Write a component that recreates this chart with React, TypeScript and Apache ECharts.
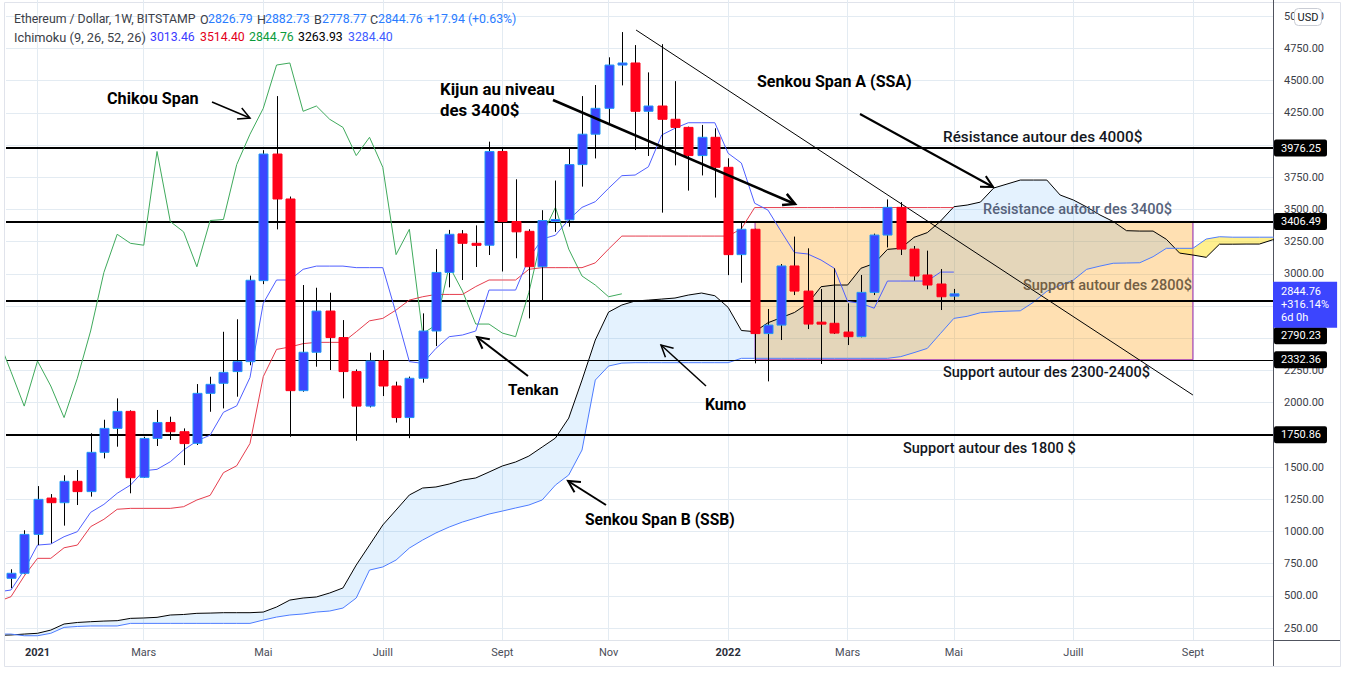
import React, { useEffect, useRef } from 'react';
import * as echarts from 'echarts';

// ---------- data (week index 0 = 4 Jan 2021, weekly bars) ----------
const FIRST_WEEK = -2;
const opens = [
  636, 675, 977, 1259, 1223, 1389, 1309, 1614, 1800, 1932,
  1420, 1722, 1846, 1774, 1684, 2072, 2150, 2241, 2318, 2947,
  3930, 3581, 2093, 2391, 2711, 2505, 2241, 1973, 2323, 2129,
  1884, 2189, 2556, 3011, 3310, 3237, 3222, 3950, 3406, 3330,
  3055, 3414, 3419, 3848, 4084, 4285, 4621, 4637, 4262, 4303,
  4200, 4137, 3918, 4060, 3827, 3149, 3346, 2536, 2602, 3061,
  2866, 2625, 2616, 2548, 2512, 2856, 3301, 3516, 3192, 2991,
  2921, 2826.79,
];
const closes = [
  675, 977, 1249, 1223, 1389, 1309, 1614, 1800, 1932, 1417,
  1722, 1846, 1774, 1682, 2072, 2142, 2235, 2318, 2950, 3930,
  3581, 2093, 2391, 2711, 2505, 2241, 1973, 2323, 2129, 1884,
  2189, 2556, 3011, 3307, 3237, 3222, 3950, 3406, 3326, 3055,
  3414, 3422, 3848, 4084, 4285, 4621, 4637, 4262, 4303, 4200,
  4137, 3918, 4060, 3827, 3149, 3346, 2536, 2602, 3061, 2866,
  2610, 2610, 2540, 2512, 2856, 3301, 3516, 3192, 2983, 2913,
  2822, 2844.76,
];
const lows = [
  560, 668, 894, 908, 1045, 1205, 1270, 1567, 1658, 1296,
  1415, 1663, 1710, 1515, 1671, 1929, 1955, 2046, 2290, 2920,
  3345, 1735, 2085, 2279, 2253, 2033, 1704, 1963, 2051, 1845,
  1724, 2155, 2439, 2895, 2952, 3053, 3146, 3018, 3121, 2654,
  2796, 3326, 3366, 3677, 3896, 4161, 4463, 3961, 3915, 3475,
  3842, 3646, 3764, 3592, 2990, 2931, 2305, 2165, 2486, 2835,
  2571, 2300, 2533, 2447, 2507, 2835, 3205, 3146, 2947, 2880,
  2719, 2778.77,
];
const highs = [
  706, 1009, 1352, 1290, 1436, 1477, 1762, 1867, 2033, 1940,
  1735, 1943, 1891, 1800, 2144, 2201, 2550, 2647, 2986, 3960,
  4380, 3600, 2913, 2892, 2853, 2641, 2258, 2388, 2408, 2163,
  2202, 2693, 3192, 3341, 3340, 3376, 4026, 3974, 3734, 3346,
  3494, 3724, 3974, 4380, 4466, 4681, 4877, 4776, 4564, 4783,
  4496, 4143, 4156, 4130, 3897, 3405, 3350, 2727, 3076, 3289,
  3198, 2882, 3043, 2771, 2991, 3312, 3578, 3557, 3216, 3180,
  3037, 2882.73,
];

const LINE_START = -3;
const tenkan = [
  530, 545, 700, 894, 902, 959, 998, 1148, 1210, 1296,
  1360, 1471, 1482, 1541, 1632, 1702, 1748, 1925, 1975, 2195,
  2771, 2952, 2952, 3035, 3060, 3060, 3060, 3048, 3048, 3048,
  2693, 2318, 2305, 2421, 2512, 2525, 2556, 2874, 2874, 2874,
  3121, 3270, 3300, 3420, 3516, 3560, 3664, 3762, 3767, 3831,
  4078, 4130, 4173, 4173, 4173, 3936, 3860, 3548, 3495, 3328,
  3165, 3154, 3107, 3043, 2786, 2771, 2733, 2944, 2944, 2944,
  2944, 3013.46, 3013.46,
];
const kijun = [
  455, 493, 654, 791, 791, 873, 894, 1037, 1094, 1172,
  1179, 1179, 1179, 1179, 1192, 1244, 1280, 1456, 1510, 1683,
  2202, 2413, 2432, 2458, 2468, 2468, 2468, 2550, 2635, 2654,
  2719, 2796, 2822, 2840, 2840, 2840, 2901, 2952, 2952, 2952,
  3035, 3048, 3048, 3048, 3048, 3085, 3192, 3293, 3293, 3293,
  3293, 3293, 3293, 3293, 3293, 3293, 3350, 3514.4, 3514.4, 3514.4,
  3514.4, 3514.4, 3514.4, 3514.4, 3514.4, 3514.4, 3514.4, 3514.4, 3514.4, 3514.4,
  3514.4, 3514.4, 3514.4,
];
const CHIKOU_SHIFT = -25;

const CLOUD_START = -3;
const senkouA = [
  193, 196, 203, 209, 234, 281, 293, 299, 304, 307,
  325, 328, 333, 351, 355, 364, 366, 369, 369, 369,
  374, 413, 467, 483, 491, 522, 561, 739, 894, 1050,
  1166, 1283, 1337, 1345, 1368, 1399, 1415, 1461, 1508, 1539,
  1585, 1655, 1725, 1880, 2175, 2486, 2703, 2758, 2789, 2796,
  2804, 2812, 2835, 2851, 2830, 2740, 2560, 2551, 2620, 2660,
  2700, 2770, 2900, 2913, 2913, 3043, 3080, 3190, 3198, 3283,
  3320, 3410, 3521, 3534, 3557, 3666, 3697, 3728, 3728, 3728,
  3612, 3573, 3519, 3457, 3406, 3335, 3332, 3332, 3268, 3161,
  3146, 3128, 3230, 3230, 3231, 3231, 3264, 3263.93,
];
const senkouB = [
  203, 203, 190, 190, 209, 255, 262, 266, 266, 266,
  286, 286, 286, 286, 286, 286, 286, 286, 286, 286,
  312, 335, 351, 359, 374, 382, 405, 483, 700, 724,
  778, 871, 933, 988, 1034, 1073, 1104, 1135, 1158, 1182,
  1205, 1244, 1360, 1438, 1632, 2175, 2284, 2307, 2310, 2310,
  2310, 2310, 2310, 2310, 2310, 2310, 2344, 2344, 2344, 2344,
  2344, 2344, 2344, 2344, 2344, 2344, 2344, 2344, 2357, 2388,
  2421, 2538, 2654, 2670, 2698, 2705, 2710, 2713, 2780, 2865,
  2910, 2952, 3035, 3060, 3082, 3084, 3086, 3133, 3198, 3198,
  3198, 3270, 3288, 3284.4, 3284.4, 3284.4, 3284.4, 3284.4,
];

const monthTicks = [0, 8, 17, 26, 35, 43, 52, 61, 69, 78, 87];
const monthLabels = ['2021', 'Mars', 'Mai', 'Juill', 'Sept', 'Nov', '2022', 'Mars', 'Mai', 'Juill', 'Sept'];
const yearLabels = ['2021', '2022'];
const priceTicks = [250, 500, 750, 1000, 1250, 1500, 1750, 2000, 2250, 2500, 2750, 3000, 3250, 3500, 3750, 4000, 4250, 4500, 4750, 5000];
// tick labels hidden under the price boxes in the reference
const priceLabels = [250, 500, 750, 1000, 1250, 1500, 2000, 2250, 3000, 3250, 3500, 3750, 4250, 4500, 4750, 5000];

const resistance4000 = 3976.25;
const resistance3400 = 3406.49;
const support2800 = 2790.23;
const support2300 = 2332.36;
const support1800 = 1750.86;
const lastClose = 2844.76;
const zoneStartWeek = 54.03;
const zoneEndWeek = 87;
const trendStart = [45.07, 4893];
const trendEnd = [87, 2059];

const headerTitle = 'Ethereum / Dollar, 1W, BITSTAMP';
const ohlcKeys = ['O', 'H', 'B', 'C'];
const ohlcValues = ['2826.79', '2882.73', '2778.77', '2844.76'];
const changeText = '+17.94 (+0.63%)';
const ichimokuTitle = 'Ichimoku (9, 26, 52, 26)';
const ichimokuValues = ['3013.46', '3514.40', '2844.76', '3263.93', '3284.40'];

// ---------- layout / style ----------
const FONT = 'Roboto, "Noto Sans", sans-serif';
const X_MIN = -2.372;
const X_MAX = 93.03;
const Y_MIN = 157;
const Y_MAX = 5126;
const GRID_COLOR = '#e3ebf2';
const ichimokuColors = ['#3b3bff', '#e3001a', '#0a9b3c', '#000000', '#3f5cff'];
const ohlcX = [200, 257, 314, 370];
const ichimokuX = [150, 200, 249, 298, 348];

function arrow(x1: number, y1: number, x2: number, y2: number, lw: number): any[] {
  const ang = Math.atan2(y2 - y1, x2 - x1);
  const L = 13;
  const a = Math.PI / 6.5;
  const p1 = [x2 - L * Math.cos(ang - a), y2 - L * Math.sin(ang - a)];
  const p2 = [x2 - L * Math.cos(ang + a), y2 - L * Math.sin(ang + a)];
  return [
    { type: 'line', z: 50, shape: { x1, y1, x2, y2 }, style: { stroke: '#000', lineWidth: lw } },
    { type: 'polyline', z: 50, shape: { points: [p1, [x2, y2], p2] }, style: { stroke: '#000', lineWidth: lw, fill: null } },
  ];
}

function txt(text: string, x: number, y: number, weight: string, color = '#000', size = 16): any {
  return {
    type: 'text', z: 50, x, y,
    style: { text, fill: color, font: `${weight} ${size}px ${FONT}`, verticalAlign: 'middle', align: 'left' },
  };
}

function cloudRuns() {
  const runs: { s: boolean; A: number[][]; B: number[][] }[] = [];
  let cur: { s: boolean; A: number[][]; B: number[][] } | null = null;
  for (let i = 0; i < senkouA.length; i++) {
    const x = CLOUD_START + i;
    const a = senkouA[i];
    const b = senkouB[i];
    const s = a >= b;
    if (!cur) { cur = { s, A: [[x, a]], B: [[x, b]] }; continue; }
    if (s !== cur.s) {
      const pa = senkouA[i - 1];
      const pb = senkouB[i - 1];
      const d0 = pa - pb;
      const d1 = a - b;
      const t = d0 / (d0 - d1);
      const xc = x - 1 + t;
      const vc = pa + t * (a - pa);
      cur.A.push([xc, vc]);
      cur.B.push([xc, vc]);
      runs.push(cur);
      cur = { s, A: [[xc, vc], [x, a]], B: [[xc, vc], [x, b]] };
    } else {
      cur.A.push([x, a]);
      cur.B.push([x, b]);
    }
  }
  if (cur) runs.push(cur);
  return runs;
}

function levelLine(value: number, width: number, labelOffset = 0): any {
  return {
    yAxis: value,
    lineStyle: { color: '#000', width, type: 'solid' },
    label: {
      show: true, position: 'end', distance: 1, formatter: value.toFixed(2),
      color: '#fff', backgroundColor: '#000', padding: [3, 6, 3, 7], fontSize: 11,
      fontFamily: FONT, borderRadius: 2, offset: [0, labelOffset],
    },
  };
}

function headerGraphics(): any[] {
  const out: any[] = [];
  const t = (text: string, x: number, y: number, fill: string, size: number) => ({
    type: 'text', z: 45, x, y,
    style: { text, fill, font: `${size}px ${FONT}`, verticalAlign: 'middle', align: 'left' },
  });
  out.push(t(headerTitle, 14, 19, '#3b3e47', 12.3));
  ohlcKeys.forEach((k, i) => {
    out.push(t(k, ohlcX[i], 19, '#3b3e47', 12.5));
    out.push(t(ohlcValues[i], ohlcX[i] + 8, 19, '#2a7cff', 12.3));
  });
  out.push(t(changeText, 427, 19, '#2a7cff', 12.3));
  out.push(t(ichimokuTitle, 14, 37, '#3b3e47', 12.8));
  ichimokuValues.forEach((v, i) => out.push(t(v, ichimokuX[i], 37, ichimokuColors[i], 12.3)));
  return out;
}

export default function App() {
  const ref = useRef<HTMLDivElement>(null);
  useEffect(() => {
    const chart = echarts.init(ref.current!, null, { renderer: 'svg' });

    const candleData = opens.map((o, i) => [FIRST_WEEK + i, o, closes[i], lows[i], highs[i]]);
    const tenkanData = tenkan.map((v, i) => [LINE_START + i, v]);
    const kijunData = kijun.map((v, i) => [LINE_START + i, v]);
    const chikouData = closes.map((v, i) => [FIRST_WEEK + i + CHIKOU_SHIFT, v]);
    const ssaData = senkouA.map((v, i) => [CLOUD_START + i, v]);
    const ssbData = senkouB.map((v, i) => [CLOUD_START + i, v]);
    const runs = cloudRuns();

    const option: any = {
      animation: false,
      backgroundColor: '#fff',
      textStyle: { fontFamily: FONT },
      grid: { left: 6, right: 73, top: 0, bottom: 35, containLabel: false },
      xAxis: {
        type: 'value', min: X_MIN, max: X_MAX,
        axisLine: { show: true, onZero: false, lineStyle: { color: '#dfe3ea' } },
        axisTick: { show: false, customValues: monthTicks },
        splitLine: { show: true, lineStyle: { color: GRID_COLOR, width: 1 } },
        axisLabel: {
          customValues: monthTicks, margin: 7, fontSize: 11, color: '#4a4d57', fontFamily: FONT,
          formatter: (v: number) => {
            const i = monthTicks.indexOf(Math.round(v));
            if (i < 0) return '';
            const lab = monthLabels[i];
            return yearLabels.indexOf(lab) >= 0 ? `{y|${lab}}` : lab;
          },
          rich: { y: { fontWeight: 'bold', fontSize: 11, color: '#2a2e39', fontFamily: FONT } },
        },
      },
      yAxis: {
        type: 'value', position: 'right', min: Y_MIN, max: Y_MAX, scale: true,
        axisLine: { show: true, onZero: false, lineStyle: { color: '#50535e' } },
        axisTick: { show: false, customValues: priceTicks },
        splitLine: { show: true, lineStyle: { color: GRID_COLOR, width: 1 } },
        axisLabel: {
          customValues: priceLabels, margin: 11, fontSize: 11, color: '#3b3e47', fontFamily: FONT,
          formatter: (v: number) => v.toFixed(2),
        },
      },
      series: [
        {
          name: 'levels', type: 'line', z: 1, data: [[X_MIN - 5, 1000]], symbol: 'none',
          lineStyle: { opacity: 0 }, clip: false, silent: true,
          markLine: {
            silent: true, symbol: ['none', 'none'], animation: false, precision: 2,
            data: [
              levelLine(resistance4000, 2),
              levelLine(resistance3400, 2),
              levelLine(support2800, 2, 35),
              levelLine(support2300, 1),
              levelLine(support1800, 2),
              [
                { coord: trendStart, lineStyle: { color: '#000', width: 1, type: 'solid' }, label: { show: false } },
                { coord: trendEnd },
              ],
              {
                yAxis: lastClose,
                lineStyle: { color: 'rgba(0,0,0,0)', width: 0 },
                label: {
                  show: true, position: 'end', distance: 0,
                  formatter: '2844.76\n+316.14%\n6d 0h',
                  color: '#fff', backgroundColor: '#3c45fe', padding: [4, 8, 3, 8],
                  fontSize: 11, lineHeight: 13, fontFamily: FONT, offset: [0, 11],
                },
              },
            ],
          },
        },
        {
          name: 'zone', type: 'line', z: 2, data: [[X_MIN - 5, 1000]], symbol: 'none',
          lineStyle: { opacity: 0 }, silent: true,
          markArea: {
            silent: true,
            itemStyle: { color: 'rgba(255,152,0,0.3)', borderColor: '#9c27b0', borderWidth: 1 },
            data: [[{ coord: [zoneStartWeek, resistance3400] }, { coord: [zoneEndWeek, support2300] }]],
          },
        },
        {
          name: 'Kumo', type: 'custom', z: 3, clip: true, silent: true,
          data: [[CLOUD_START, senkouA[0]]],
          encode: { x: 0, y: 1 },
          renderItem: (_params: any, api: any) => ({
            type: 'group',
            children: runs.map((r) => ({
              type: 'polygon',
              shape: {
                points: r.A.map((p) => api.coord(p)).concat(r.B.slice().reverse().map((p) => api.coord(p))),
              },
              style: { fill: r.s ? 'rgba(33,150,243,0.12)' : 'rgba(255,228,50,0.55)' },
            })),
          }),
        },
        { name: 'SSA', type: 'line', z: 4, data: ssaData, symbol: 'none', lineStyle: { color: '#000', width: 1 }, silent: true },
        { name: 'SSB', type: 'line', z: 4, data: ssbData, symbol: 'none', lineStyle: { color: '#4d7cff', width: 1 }, silent: true },
        { name: 'Chikou', type: 'line', z: 5, data: chikouData, symbol: 'none', lineStyle: { color: '#3faa5c', width: 1 }, silent: true },
        { name: 'Kijun', type: 'line', z: 5, data: kijunData, symbol: 'none', lineStyle: { color: '#e2283a', width: 1, opacity: 0.9 }, silent: true },
        { name: 'Tenkan', type: 'line', z: 5, data: tenkanData, symbol: 'none', lineStyle: { color: '#4f5fff', width: 1 }, silent: true },
        {
          name: 'ETH', type: 'custom', z: 6, clip: true, silent: true,
          data: candleData,
          encode: { x: 0, y: [1, 2, 3, 4] },
          renderItem: (_params: any, api: any) => {
            const x = api.value(0);
            const o = api.value(1);
            const c = api.value(2);
            const l = api.value(3);
            const h = api.value(4);
            const pO = api.coord([x, o]);
            const pC = api.coord([x, c]);
            const pL = api.coord([x, l]);
            const pH = api.coord([x, h]);
            const up = c >= o;
            const w = 9;
            const top = Math.min(pO[1], pC[1]);
            const bot = Math.max(pO[1], pC[1]);
            const cx = Math.round(pO[0]) + 0.5;
            return {
              type: 'group',
              children: [
                { type: 'line', shape: { x1: cx, y1: pH[1], x2: cx, y2: pL[1] }, style: { stroke: '#000', lineWidth: 1 } },
                {
                  type: 'rect',
                  shape: { x: cx - w / 2, y: top, width: w, height: Math.max(bot - top, 2) },
                  style: { fill: up ? '#3c45fe' : '#ff0019', stroke: up ? '#1f98f5' : '#ff0019', lineWidth: 1 },
                },
              ],
            };
          },
        },
      ],
      graphic: [
        { type: 'rect', z: 0, shape: { x: 4.5, y: 2.5, width: 1336, height: 664 }, style: { fill: null, stroke: '#e0e3eb', lineWidth: 1 } },
        { type: 'line', z: 40, shape: { x1: 1273, y1: 640.5, x2: 1340, y2: 640.5 }, style: { stroke: '#50535e', lineWidth: 1 } },
        { type: 'line', z: 40, shape: { x1: 1273.5, y1: 640, x2: 1273.5, y2: 666 }, style: { stroke: '#50535e', lineWidth: 1 } },
        { type: 'rect', z: 40, shape: { x: 1294.5, y: 8.5, width: 27, height: 17, r: 4 }, style: { fill: '#fff', stroke: '#c9ccd4', lineWidth: 1 } },
        { type: 'text', z: 41, x: 1308, y: 17, style: { text: 'USD', fill: '#131722', font: `11px ${FONT}`, align: 'center', verticalAlign: 'middle' } },
        ...headerGraphics(),

        txt('Chikou Span', 107, 98, 'bold', '#000', 16.2),
        ...arrow(212, 102, 250, 118, 1.5),
        txt('Kijun au niveau', 440, 89, 'bold', '#000', 16.8),
        txt('des 3400$', 440, 110, 'bold', '#000', 16.8),
        ...arrow(553, 100, 795, 204, 2.5),
        txt('Senkou Span A (SSA)', 757, 81, 'bold', '#000', 16),
        ...arrow(860, 114, 993, 187, 2),
        txt('Résistance autour des 4000$', 943, 137, '500', '#131722', 15.3),
        txt('Résistance autour des 3400$', 983, 209, '500', '#56627a', 14.5),
        txt('Support autour des 2800$', 1023, 285, '500', '#735f44', 14.5),
        txt('Support autour des 2300-2400$', 943, 372, '500', '#131722', 14.5),
        txt('Support autour des 1800 $', 903, 448, '500', '#131722', 14.5),
        txt('Tenkan', 508, 390, 'bold', '#000', 15.3),
        ...arrow(528, 376, 477, 337, 2),
        txt('Kumo', 705, 404, 'bold', '#000', 15.7),
        ...arrow(706, 386, 661, 345, 1.5),
        txt('Senkou Span B (SSB)', 585, 520, 'bold', '#000', 15.6),
        ...arrow(606, 505, 568, 481, 2),
      ],
    };

    chart.setOption(option);
    return () => chart.dispose();
  }, []);
  return <div ref={ref} style={{ position: 'fixed', left: 0, top: 0, width: 1346, height: 675, background: '#fff' }} />;
}
